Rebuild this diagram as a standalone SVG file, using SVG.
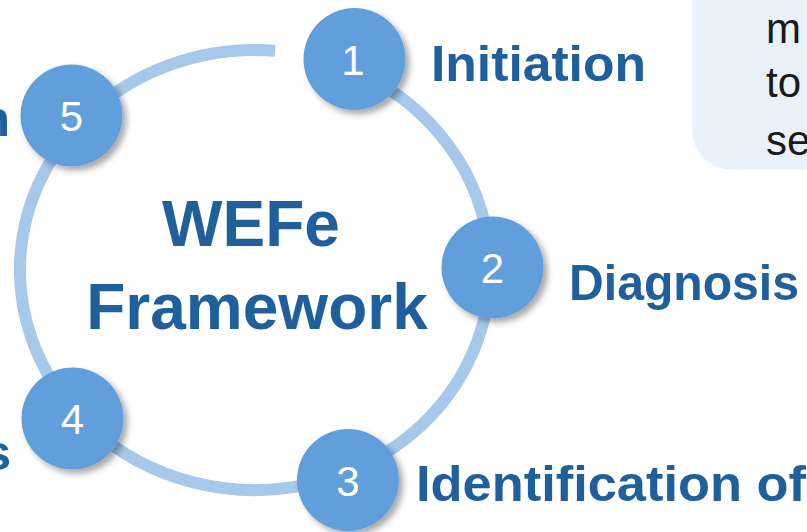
<svg xmlns="http://www.w3.org/2000/svg" width="807" height="532" viewBox="0 0 807 532">
  <defs>
    <filter id="sh" x="-30%" y="-30%" width="170%" height="170%">
      <feDropShadow dx="4" dy="4" stdDeviation="3" flood-color="#000" flood-opacity="0.35"/>
    </filter>
  </defs>
  <style>
    .node { fill: #609fdb; filter: url(#sh); }
    .num { font-family: "Liberation Sans", Arial, sans-serif; font-size: 42px; fill: #ffffff; text-anchor: middle; }
    .lbl { font-family: "Liberation Sans", Arial, sans-serif; font-weight: bold; font-size: 50px; fill: #1f5f9b; }
    .title { font-family: "Liberation Sans", Arial, sans-serif; font-weight: bold; font-size: 64px; fill: #1f5f9b; text-anchor: middle; }
    .box { font-family: "Liberation Sans", Arial, sans-serif; font-size: 42px; fill: #1a1a1a; }
  </style>
  <rect width="807" height="532" fill="#ffffff"/>

  <g id="note-box">
    <rect x="692" y="-60" width="160" height="230" rx="40" ry="40" fill="#e9f2fb"/>
    <text class="box" x="766" y="43">m</text>
    <text class="box" x="766" y="97">to</text>
    <text class="box" x="766" y="155">se</text>
  </g>

  <g id="connectors">
    <path d="M 354 70.5 A 235 220 0 1 1 275 50.8" fill="none" stroke="#a5c8eb" stroke-width="12" stroke-linecap="butt"/>
  </g>

  <g id="center-title">
    <text class="title" x="251" y="246">WEFe</text>
    <text class="title" x="257" y="329">Framework</text>
  </g>

  <g id="node1">
    <circle class="node" cx="354.5" cy="59" r="51"/>
    <text class="num" x="353" y="75">1</text>
    <text class="lbl" x="431" y="81" textLength="215" lengthAdjust="spacingAndGlyphs">Initiation</text>
  </g>

  <g id="node2">
    <circle class="node" cx="492.5" cy="267.5" r="51"/>
    <text class="num" x="492.5" y="283">2</text>
    <text class="lbl" x="569" y="300" textLength="230" lengthAdjust="spacingAndGlyphs">Diagnosis</text>
  </g>

  <g id="node3">
    <circle class="node" cx="348" cy="480" r="51"/>
    <text class="num" x="348" y="496">3</text>
    <text class="lbl" x="416" y="501" textLength="390" lengthAdjust="spacingAndGlyphs">Identification of</text>
  </g>

  <g id="node4">
    <circle class="node" cx="72.5" cy="418.5" r="51"/>
    <text class="num" x="72.5" y="434">4</text>
    <text class="lbl" x="11" y="470" text-anchor="end">s</text>
  </g>

  <g id="node5">
    <circle class="node" cx="71.5" cy="115.5" r="51"/>
    <text class="num" x="71.5" y="131">5</text>
    <text class="lbl" x="10" y="136" text-anchor="end">n</text>
  </g>
</svg>
